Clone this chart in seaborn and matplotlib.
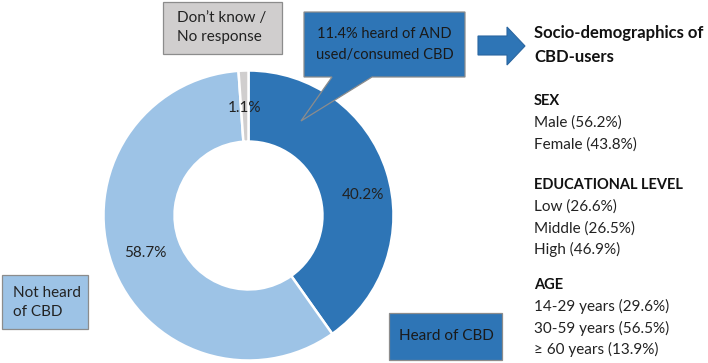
import matplotlib
matplotlib.use("Agg")
import matplotlib.pyplot as plt
from matplotlib.patches import Rectangle, Polygon
import seaborn as sns

# donut data
categories = ["Heard of CBD", "Not heard of CBD", "Don\u2019t know / No response"]
shares = [40.2, 58.7, 1.1]
colors = ["#2E75B6", "#9DC3E6", "#D0CECE"]

callout_text = "11.4% heard of AND\nused/consumed CBD"

# socio-demographics of CBD users
sex_labels = ["Male", "Female"]
sex_values = [56.2, 43.8]
edu_labels = ["Low", "Middle", "High"]
edu_values = [26.6, 26.5, 46.9]
age_labels = ["14-29 years", "30-59 years", "\u2265 60 years"]
age_values = [29.6, 56.5, 13.9]

sns.set_theme(style="white")
plt.rcParams["font.family"] = ["Lato", "DejaVu Sans"]

fig = plt.figure(figsize=(7.08, 3.63), dpi=100)
ax = fig.add_axes([0, 0, 1, 1])

# pixel-like coordinates, y going down
cx, cy, r = 248.5, 215.5, 145
wedges, _, autotexts = ax.pie(
    shares, colors=colors, center=(cx, cy), radius=r,
    startangle=-90, counterclock=True, autopct="%.1f%%", pctdistance=0.76,
    wedgeprops=dict(width=r * 0.49, edgecolor="white", linewidth=1.8),
    textprops=dict(fontsize=11, color="#222222"),
)
# nudge the percentage labels to where the original puts them
for t, pos in zip(autotexts, [(363, 195), (145, 253), (245, 108)]):
    t.set_position(pos)

ax.set_xlim(0, 708)
ax.set_ylim(363, 0)
ax.set_aspect("equal")
ax.axis("off")

edge = "#8C8C8C"


def box(x0, y0, x1, y1, fc):
    ax.add_patch(Rectangle((x0, y0), x1 - x0, y1 - y0, facecolor=fc,
                           edgecolor=edge, linewidth=0.9))


# Don't know box
box(163, 2, 282, 54, colors[2])
ax.text(177, 18, "Don\u2019t know /", fontsize=11, va="center", color="#222222")
ax.text(177, 37, "No response", fontsize=11, va="center", color="#222222")

# Not heard box
box(2, 275, 88, 329, colors[1])
ax.text(13, 293, "Not heard", fontsize=11, va="center", color="#222222")
ax.text(13, 312, "of CBD", fontsize=11, va="center", color="#222222")

# Heard box
box(389, 313, 502, 360, colors[0])
ax.text(446, 336, categories[0], fontsize=11, ha="center", va="center", color="#1a1a1a")

# callout with pointer
ax.add_patch(Polygon([(304, 12), (465, 12), (465, 77), (372, 77), (301, 121),
                      (332, 77), (304, 77)], closed=True, facecolor=colors[0],
                     edgecolor=edge, linewidth=0.9))
ax.text(384.5, 44.5, callout_text, fontsize=10.5, ha="center", va="center",
        color="#1a1a1a", linespacing=1.55)

# block arrow
ax.add_patch(Polygon([(478, 36), (507, 36), (507, 27), (525, 46), (507, 65),
                      (507, 55), (478, 55)], closed=True, facecolor=colors[0],
                     edgecolor="#2A66A0", linewidth=0.8))

# right-hand text column
tx = 534
ax.text(tx, 33, "Socio-demographics of", fontsize=12, fontweight="bold", va="center", color="#111111")
ax.text(tx, 57, "CBD-users", fontsize=12, fontweight="bold", va="center", color="#111111")

sections = [("SEX", sex_labels, sex_values, 101),
            ("EDUCATIONAL LEVEL", edu_labels, edu_values, 185),
            ("AGE", age_labels, age_values, 285)]
step = 21.6
for head, labs, vals, y in sections:
    ax.text(tx, y, head, fontsize=10.5, fontweight="bold", va="center", color="#111111")
    for i, (lab, v) in enumerate(zip(labs, vals)):
        ax.text(tx, y + step * (i + 1), f"{lab} ({v:.1f}%)", fontsize=11,
                va="center", color="#222222")

fig.savefig("out.png", dpi=100)
